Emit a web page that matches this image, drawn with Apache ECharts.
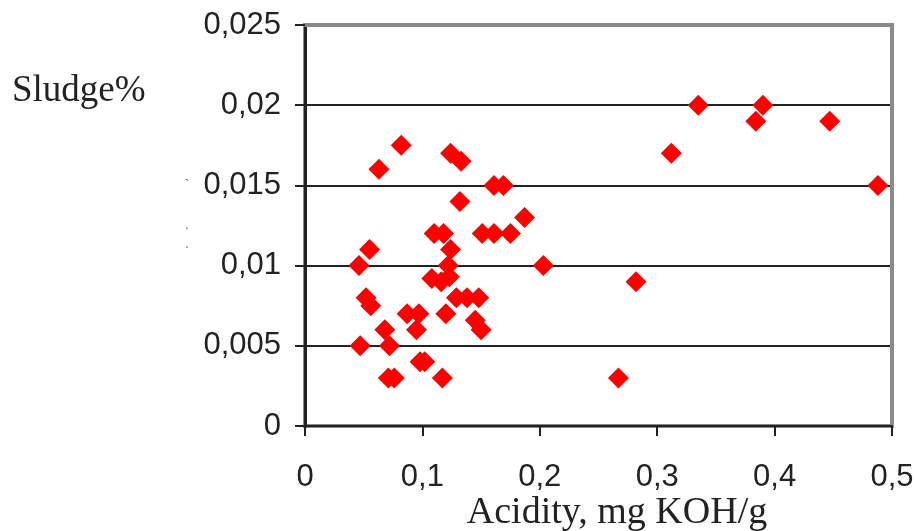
<!DOCTYPE html>
<html>
<head>
<meta charset="utf-8">
<script src="https://cdn.jsdelivr.net/npm/echarts@6/dist/echarts.min.js"></script>
<style>
  html, body { margin: 0; padding: 0; background: #fff; }
  #chart { width: 917px; height: 531px; }
</style>
</head>
<body>
<div id="chart"></div>
<script>
// Acidity (mg KOH/g) of each oil sample
const acidity = [
  0.046, 0.055, 0.063, 0.082, 0.052, 0.056, 0.047, 0.068, 0.072, 0.071,
  0.076, 0.087, 0.097, 0.095, 0.098, 0.102, 0.117, 0.110, 0.118, 0.124,
  0.122, 0.123, 0.108, 0.116, 0.120, 0.129, 0.138, 0.148, 0.145, 0.150,
  0.151, 0.161, 0.175, 0.124, 0.133, 0.161, 0.169, 0.132, 0.187, 0.203,
  0.267, 0.282, 0.312, 0.335, 0.390, 0.384, 0.447, 0.488
];
// Sludge content (%) of the same samples
const sludge = [
  0.0100, 0.0110, 0.0160, 0.0175, 0.0080, 0.0075, 0.0050, 0.0060, 0.0050, 0.0030,
  0.0030, 0.0070, 0.0070, 0.0060, 0.0040, 0.0040, 0.0030, 0.0120, 0.0120, 0.0110,
  0.0100, 0.0093, 0.0092, 0.0090, 0.0070, 0.0080, 0.0080, 0.0080, 0.0066, 0.0060,
  0.0120, 0.0120, 0.0120, 0.0170, 0.0165, 0.0150, 0.0150, 0.0140, 0.0130, 0.0100,
  0.0030, 0.0090, 0.0170, 0.0200, 0.0200, 0.0190, 0.0190, 0.0150
];
const xTickLabels = ['0', '0,1', '0,2', '0,3', '0,4', '0,5'];
const yTickLabels = ['0', '0,005', '0,01', '0,015', '0,02', '0,025'];
const xTitle = 'Acidity, mg KOH/g';
const yTitle = 'Sludge%';

const points = acidity.map((a, i) => [a, sludge[i]]);

const sansFont = 'Liberation Sans, Arial, sans-serif';
const serifFont = 'Liberation Serif, Times New Roman, serif';
const frameGray = '#8a8a8a';

const chart = echarts.init(document.getElementById('chart'), null, { renderer: 'canvas' });
chart.setOption({
  animation: false,
  backgroundColor: '#ffffff',
  grid: {
    left: 305, right: 25, top: 25, bottom: 105,
    show: true, borderColor: frameGray, borderWidth: 4, backgroundColor: '#ffffff'
  },
  xAxis: [
    {
      type: 'value', min: 0, max: 0.5, interval: 0.1, z: 4,
      axisLine: { show: true, onZero: false, lineStyle: { color: '#222', width: 2 } },
      axisTick: { show: true, length: 10, inside: false, lineStyle: { color: '#222', width: 2 } },
      splitLine: { show: false },
      axisLabel: {
        margin: 36, fontFamily: sansFont, fontSize: 31, color: '#222',
        formatter: v => xTickLabels[Math.round(v / 0.1)]
      }
    },
    {
      // grey top edge of the plot frame, drawn over the top gridline
      type: 'value', position: 'top', min: 0, max: 0.5, z: 4,
      axisLine: { show: true, onZero: false, lineStyle: { color: frameGray, width: 4 } },
      axisTick: { show: false }, axisLabel: { show: false }, splitLine: { show: false }
    }
  ],
  yAxis: [
    {
      type: 'value', min: 0, max: 0.025, interval: 0.005, z: 4,
      axisLine: { show: true, onZero: false, lineStyle: { color: '#222', width: 3 } },
      axisTick: { show: true, length: 10, inside: false, lineStyle: { color: '#222', width: 2 } },
      splitLine: { show: true, lineStyle: { color: '#222', width: 2 } },
      axisLabel: {
        margin: 24, fontFamily: sansFont, fontSize: 31, color: '#222',
        formatter: v => yTickLabels[Math.round(v / 0.005)]
      }
    },
    {
      // grey right edge of the plot frame
      type: 'value', position: 'right', min: 0, max: 0.025, z: 4,
      axisLine: { show: true, onZero: false, lineStyle: { color: frameGray, width: 4 } },
      axisTick: { show: false }, axisLabel: { show: false }, splitLine: { show: false }
    }
  ],
  graphic: [
    {
      type: 'text', x: 12, y: 91,
      style: { text: yTitle, fontFamily: serifFont, fontSize: 37, fill: '#222', verticalAlign: 'middle' }
    },
    {
      type: 'text', x: 617, y: 513,
      style: { text: xTitle, fontFamily: serifFont, fontSize: 38, fill: '#222', align: 'center', verticalAlign: 'middle' }
    },
    {
      type: 'text', x: 187, y: 185,
      style: { text: '`', fontFamily: serifFont, fontSize: 14, fill: '#555', align: 'center', verticalAlign: 'middle' }
    },
    {
      type: 'text', x: 187, y: 226,
      style: { text: '.', fontFamily: sansFont, fontSize: 12, fill: '#555', align: 'center', verticalAlign: 'middle' }
    },
    {
      type: 'text', x: 187, y: 245,
      style: { text: '.', fontFamily: sansFont, fontSize: 12, fill: '#555', align: 'center', verticalAlign: 'middle' }
    }
  ],
  series: [{
    type: 'scatter',
    xAxisIndex: 0, yAxisIndex: 0,
    data: points,
    symbol: 'diamond',
    symbolSize: 21,
    itemStyle: { color: '#ff0000', opacity: 1 },
    z: 5
  }]
});
</script>
</body>
</html>
